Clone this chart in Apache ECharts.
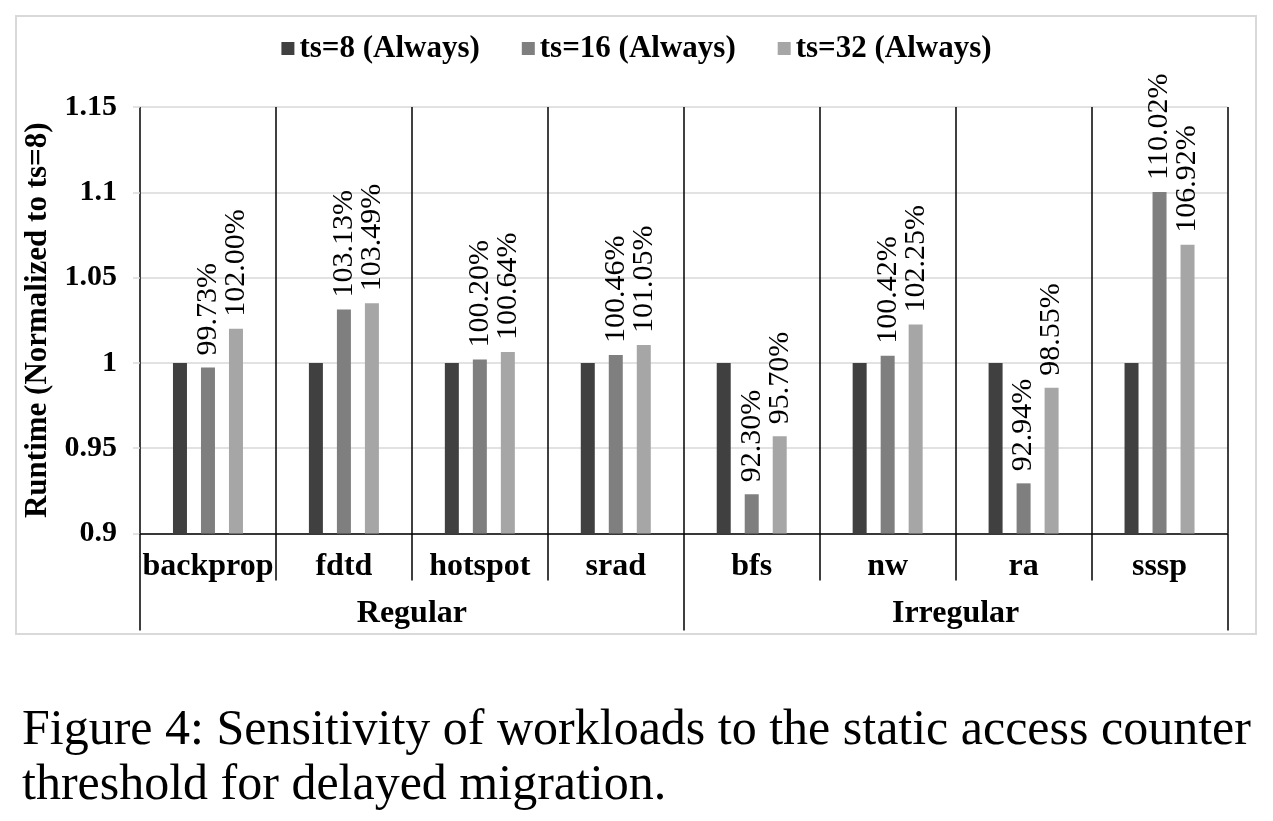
<!DOCTYPE html>
<html>
<head>
<meta charset="utf-8">
<script src="https://cdn.jsdelivr.net/npm/echarts@6/dist/echarts.min.js"></script>
<style>
html,body{margin:0;padding:0;background:#fff;}
#c{width:1273px;height:821px;}
</style>
</head>
<body>
<div id="c"></div>
<script>
var categories = ['backprop','fdtd','hotspot','srad','bfs','nw','ra','sssp'];
var groups = ['Regular','Irregular'];
var seriesNames = ['ts=8 (Always)','ts=16 (Always)','ts=32 (Always)'];
var ts8  = [1, 1, 1, 1, 1, 1, 1, 1];
var ts16 = [0.9973, 1.0313, 1.0020, 1.0046, 0.9230, 1.0042, 0.9294, 1.1002];
var ts32 = [1.0200, 1.0349, 1.0064, 1.0105, 0.9570, 1.0225, 0.9855, 1.0692];
var yMin = 0.9, yMax = 1.15, yStep = 0.05;
var caption = 'Figure 4: Sensitivity of workloads to the static access counter\nthreshold for delayed migration.';

var colors = ['#404040','#7f7f7f','#a6a6a6'];
var serif = "'Liberation Serif','Times New Roman',serif";

var chart = echarts.init(document.getElementById('c'), null, {renderer:'canvas'});

function pctLabel(p){ return (p.value*100).toFixed(2) + '%'; }
var dataLabel = {
  show: true, position: 'top', rotate: 90, distance: 12,
  align: 'left', verticalAlign: 'middle',
  fontFamily: serif, fontSize: 30, color: '#000',
  formatter: pctLabel
};

var option = {
  animation: false,
  backgroundColor: '#fff',
  color: colors,
  title: {
    text: caption,
    left: 17, top: 698,
    textStyle: {fontFamily: serif, fontSize: 50, fontWeight: 'normal', color: '#000', lineHeight: 55}
  },
  graphic: [{
    type: 'rect', silent: true,
    shape: {x: 16, y: 16, width: 1240, height: 618},
    style: {fill: 'none', stroke: '#d9d9d9', lineWidth: 2}
  }],
  legend: {
    data: seriesNames,
    top: 28, left: 'center',
    icon: 'rect', itemWidth: 13, itemHeight: 13, itemGap: 42,
    textStyle: {fontFamily: serif, fontSize: 31, fontWeight: 'bold', color: '#000'}
  },
  grid: {left: 140, right: 45.5, top: 107, bottom: 287.5, containLabel: false},
  xAxis: [{
    type: 'category', data: categories, position: 'bottom',
    axisLine: {show: true, lineStyle: {color: '#000', width: 1.5}},
    axisTick: {show: true, interval: 0, length: 47, lineStyle: {color: '#000', width: 1.5}},
    splitLine: {show: true, interval: 0, lineStyle: {color: '#000', width: 1.5}},
    axisLabel: {interval: 0, margin: 17, fontFamily: serif, fontSize: 32, fontWeight: 'bold', color: '#000'}
  },{
    type: 'category', data: groups, position: 'bottom',
    axisLine: {show: false},
    axisTick: {show: true, interval: 0, length: 97, lineStyle: {color: '#000', width: 1.5}},
    splitLine: {show: false},
    axisLabel: {interval: 0, margin: 64, fontFamily: serif, fontSize: 32, fontWeight: 'bold', color: '#000'}
  }],
  yAxis: {
    type: 'value', min: yMin, max: yMax, interval: yStep,
    name: 'Runtime (Normalized to ts=8)', nameLocation: 'middle', nameGap: 85,
    nameTextStyle: {fontFamily: serif, fontSize: 31, fontWeight: 'bold', color: '#000'},
    axisLine: {show: false},
    axisTick: {show: true, length: 7, lineStyle: {color: '#d9d9d9', width: 1.5}},
    splitLine: {show: true, lineStyle: {color: '#d9d9d9', width: 1.5}},
    axisLabel: {margin: 23, fontFamily: serif, fontSize: 30, fontWeight: 'bold', color: '#000',
      formatter: function(v){ return String(+v.toFixed(2)); }}
  },
  series: [
    {name: seriesNames[0], type: 'bar', data: ts8, barWidth: 14, barGap: '100%', xAxisIndex: 0},
    {name: seriesNames[1], type: 'bar', data: ts16, barWidth: 14, barGap: '100%', xAxisIndex: 0, label: dataLabel},
    {name: seriesNames[2], type: 'bar', data: ts32, barWidth: 14, barGap: '100%', xAxisIndex: 0, label: dataLabel}
  ]
};
chart.setOption(option);
</script>
</body>
</html>
